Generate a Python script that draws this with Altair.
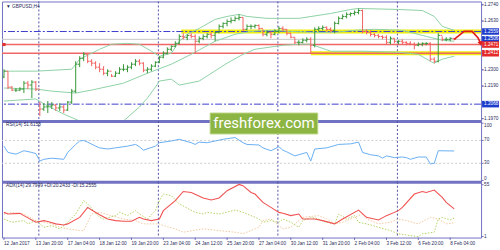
import altair as alt
import pandas as pd

# ---------------- data (GBPUSD H4, bar index 0 = 12 Jan 2017 12:00) ----------------
high = [1.2304, 1.2291, 1.2190, 1.2177, 1.2183, 1.2224, 1.2224, 1.2230, 1.2224, 1.2082,
        1.2075, 1.2089, 1.2082, 1.2069, 1.2075, 1.2062, 1.2089, 1.2170, 1.2358, 1.2392,
        1.2419, 1.2405, 1.2372, 1.2358, 1.2345, 1.2325, 1.2304, 1.2271, 1.2291, 1.2318,
        1.2338, 1.2331, 1.2351, 1.2372, 1.2372, 1.2351, 1.2318, 1.2338, 1.2358, 1.2392,
        1.2426, 1.2452, 1.2466, 1.2493, 1.2540, 1.2547, 1.2540, 1.2547, 1.2540, 1.2526,
        1.2540, 1.2547, 1.2553, 1.2560, 1.2607, 1.2621, 1.2641, 1.2654, 1.2661, 1.2675,
        1.2654, 1.2607, 1.2607, 1.2607, 1.2607, 1.2574, 1.2567, 1.2560, 1.2574, 1.2594,
        1.2594, 1.2574, 1.2547, 1.2520, 1.2500, 1.2513, 1.2520, 1.2520, 1.2587, 1.2594,
        1.2600, 1.2594, 1.2587, 1.2627, 1.2661, 1.2675, 1.2688, 1.2688, 1.2701, 1.2715,
        1.2708, 1.2574, 1.2567, 1.2547, 1.2540, 1.2533, 1.2533, 1.2526, 1.2513, 1.2500,
        1.2506, 1.2493, 1.2493, 1.2486, 1.2486, 1.2486, 1.2486, 1.2486, 1.2385, 1.2547,
        1.2526, 1.2520, 1.2520, 1.2513]
low = [1.2244, 1.2170, 1.2156, 1.2150, 1.2156, 1.2143, 1.2170, 1.2109, 1.2156, 1.1988,
       1.2022, 1.2008, 1.2035, 1.2022, 1.2022, 1.2008, 1.2022, 1.2069, 1.2143, 1.2318,
       1.2358, 1.2345, 1.2325, 1.2304, 1.2284, 1.2264, 1.2257, 1.2251, 1.2251, 1.2271,
       1.2291, 1.2284, 1.2304, 1.2325, 1.2331, 1.2284, 1.2277, 1.2291, 1.2318, 1.2345,
       1.2378, 1.2405, 1.2426, 1.2452, 1.2473, 1.2506, 1.2500, 1.2513, 1.2412, 1.2479,
       1.2500, 1.2513, 1.2513, 1.2493, 1.2547, 1.2580, 1.2594, 1.2614, 1.2627, 1.2634,
       1.2560, 1.2567, 1.2574, 1.2580, 1.2567, 1.2526, 1.2526, 1.2513, 1.2533, 1.2547,
       1.2560, 1.2533, 1.2513, 1.2473, 1.2466, 1.2479, 1.2486, 1.2412, 1.2452, 1.2560,
       1.2567, 1.2560, 1.2553, 1.2547, 1.2607, 1.2641, 1.2648, 1.2661, 1.2668, 1.2675,
       1.2547, 1.2540, 1.2526, 1.2520, 1.2513, 1.2506, 1.2473, 1.2473, 1.2479, 1.2473,
       1.2473, 1.2466, 1.2466, 1.2439, 1.2459, 1.2459, 1.2466, 1.2358, 1.2345, 1.2351,
       1.2493, 1.2493, 1.2493, 1.2500]
close = [1.2291, 1.2183, 1.2163, 1.2163, 1.2170, 1.2210, 1.2197, 1.2217, 1.2170, 1.2035,
         1.2049, 1.2055, 1.2062, 1.2042, 1.2049, 1.2028, 1.2082, 1.2156, 1.2338, 1.2378,
         1.2405, 1.2358, 1.2345, 1.2318, 1.2304, 1.2277, 1.2291, 1.2257, 1.2277, 1.2304,
         1.2304, 1.2318, 1.2338, 1.2358, 1.2345, 1.2298, 1.2304, 1.2325, 1.2351, 1.2385,
         1.2412, 1.2439, 1.2459, 1.2479, 1.2526, 1.2520, 1.2533, 1.2526, 1.2493, 1.2513,
         1.2526, 1.2540, 1.2533, 1.2553, 1.2594, 1.2614, 1.2627, 1.2634, 1.2648, 1.2654,
         1.2574, 1.2594, 1.2594, 1.2600, 1.2580, 1.2540, 1.2553, 1.2540, 1.2560, 1.2580,
         1.2574, 1.2547, 1.2520, 1.2486, 1.2486, 1.2500, 1.2506, 1.2466, 1.2574, 1.2580,
         1.2587, 1.2574, 1.2567, 1.2614, 1.2648, 1.2661, 1.2675, 1.2681, 1.2688, 1.2701,
         1.2560, 1.2553, 1.2540, 1.2533, 1.2526, 1.2520, 1.2486, 1.2513, 1.2493, 1.2493,
         1.2486, 1.2479, 1.2473, 1.2466, 1.2473, 1.2479, 1.2479, 1.2372, 1.2358, 1.2533,
         1.2506, 1.2506, 1.2513, 1.2506]
first_open = 1.2251

upper_i = [0, 8, 17, 19, 24, 27, 31, 34, 37, 39, 42, 44, 46, 49, 53, 56, 59, 61, 66, 74,
           82, 87, 89, 99, 105, 108, 110, 113]
upper_p = [1.2291, 1.2291, 1.2304, 1.2372, 1.2439, 1.2473, 1.2479, 1.2473, 1.2426, 1.2392,
           1.2412, 1.2493, 1.2540, 1.2580, 1.2641, 1.2661, 1.2675, 1.2661, 1.2648, 1.2648,
           1.2681, 1.2708, 1.2715, 1.2708, 1.2701, 1.2661, 1.2594, 1.2567]
mid_i = [0, 8, 12, 18, 22, 30, 36, 42, 47, 53, 58, 62, 67, 72, 78, 83, 88, 93, 100, 106, 110, 113]
mid_p = [1.2177, 1.2170, 1.2156, 1.2143, 1.2163, 1.2210, 1.2277, 1.2338, 1.2405, 1.2493,
         1.2540, 1.2560, 1.2567, 1.2560, 1.2553, 1.2553, 1.2567, 1.2574, 1.2567, 1.2526,
         1.2500, 1.2493]
lower_i = [0, 8, 11, 15, 19, 24, 27, 30, 34, 36, 38, 39, 42, 44, 49, 56, 60, 63, 70, 74,
           77, 82, 90, 99, 104, 107, 108, 110, 113]
lower_p = [1.2089, 1.2103, 1.2055, 1.2001, 1.1954, 1.1887, 1.1894, 1.1954, 1.2049, 1.2109,
           1.2183, 1.2224, 1.2237, 1.2197, 1.2224, 1.2345, 1.2405, 1.2439, 1.2466, 1.2473,
           1.2473, 1.2426, 1.2426, 1.2419, 1.2405, 1.2358, 1.2345, 1.2372, 1.2392]

rsi_i = [0, 1, 3, 4, 5, 7, 8, 9, 10, 12, 15, 16, 18, 19, 20, 21, 23, 24, 26, 28,
         31, 33, 34, 35, 38, 39, 42, 44, 47, 48, 49, 51, 53, 55, 57, 58, 60, 61, 64, 65,
         67, 69, 70, 71, 73, 74, 76, 77, 78, 81, 84, 87, 89, 90, 92, 94, 95, 96, 98, 100,
         101, 102, 104, 106, 107, 108, 109, 113]
rsi_v = [60, 49, 46, 49, 52, 49, 47, 34, 37, 39, 37, 49, 63, 69, 70, 67, 60, 57, 55, 57,
         60, 63, 59, 53, 60, 66, 69, 72, 66, 63, 67, 66, 69, 72, 74, 75, 66, 63, 62, 57,
         52, 59, 53, 50, 43, 45, 49, 34, 55, 57, 63, 64, 67, 49, 45, 43, 39, 43, 40, 41,
         40, 37, 41, 41, 29, 30, 52, 51.6]

adx_i = [0, 1, 4, 5, 8, 10, 11, 13, 15, 16, 19, 21, 22, 24, 26, 28, 30, 32, 34, 35,
         37, 39, 40, 43, 45, 47, 50, 52, 54, 56, 59, 60, 62, 63, 65, 67, 69, 70, 72, 74,
         75, 78, 80, 83, 85, 89, 91, 94, 96, 99, 100, 103, 105, 106, 108, 110, 111, 113]
adx_v = [26.2, 24.5, 25.2, 22.8, 15.9, 17.6, 16.6, 14.2, 13.1, 14.2, 21, 31.4, 28.6, 23.8, 19.3, 17.6, 16.9, 16.9, 21, 19.3,
         17.6, 19.3, 28, 38.4, 48, 47, 41.2, 39.1, 41.2, 48.8, 55.3, 54, 47, 45.3, 36.6, 31.4, 26.2, 25.2, 22.8, 24.5,
         19.3, 19.3, 17.6, 14.2, 19.3, 28.6, 21, 18.3, 22.8, 28, 31.4, 45.3, 48, 47, 49.5, 41.8, 36.6, 29.8]
plus_i = [0, 2, 5, 6, 8, 10, 12, 14, 16, 18, 20, 21, 24, 25, 28, 29, 31, 33, 34, 36,
          38, 39, 40, 42, 44, 48, 50, 51, 54, 58, 60, 62, 64, 65, 67, 69, 70, 72, 74, 75,
          77, 79, 80, 83, 84, 86, 88, 89, 91, 94, 97, 99, 102, 104, 105, 108, 109, 110, 112, 113]
plus_v = [19.3, 15.9, 17.6, 14.2, 17.6, 10.7, 12.4, 9, 15.9, 24.5, 38.4, 35, 21, 19.3, 22.8, 26.2, 22.8, 28, 24.5, 19.3,
          28, 38.4, 45.3, 43.6, 35, 26.2, 24.5, 26.2, 24.5, 28.6, 26.2, 22.8, 19.3, 15.9, 17.6, 15.9, 19.3, 15.9, 10.7, 17.6,
          21, 19.3, 16.9, 14.2, 24.5, 19.3, 22.8, 15.9, 14.2, 10.7, 7.2, 3.8, 2, 1, 3.8, 5.5, 19.3, 21, 18.3, 20.2]
minus_i = [0, 2, 5, 8, 12, 14, 16, 19, 20, 22, 24, 27, 30, 33, 35, 39, 40, 43, 45, 50,
           54, 58, 60, 62, 64, 65, 67, 69, 70, 72, 75, 79, 81, 83, 85, 90, 91, 94, 97, 99,
           101, 104, 107, 109, 111, 113]
minus_v = [24.5, 26.2, 24.5, 17.6, 14.2, 10.7, 9, 7.2, 7.2, 24.5, 26.2, 22.8, 19.3, 17.6, 14.2, 14.2, 12.4, 9, 5.5, 9,
           7.2, 5.5, 4, 7.2, 10.7, 17.6, 19.3, 12.4, 9, 10.7, 21, 22.8, 19.3, 14.2, 15.9, 24.5, 19.3, 14.2, 15.9, 19.3,
           17.6, 14.2, 21, 19.3, 14.2, 15.3]

x_tick_idx = [0, 8, 16, 24, 32, 40, 48, 56, 64, 72, 80, 88, 96, 104, 112]
x_tick_labels = ["12 Jan 2017", "13 Jan 20:00", "17 Jan 04:00", "18 Jan 12:00", "19 Jan 20:00",
                 "23 Jan 04:00", "24 Jan 12:00", "25 Jan 20:00", "27 Jan 04:00", "30 Jan 12:00",
                 "31 Jan 20:00", "2 Feb 04:00", "3 Feb 12:00", "6 Feb 20:00", "8 Feb 04:00"]
week_sep = [8.75, 38.75, 68.75, 98.75]
price_ticks = [1.2740, 1.2630, 1.2520, 1.2410, 1.2300, 1.2190, 1.2080, 1.1970]
price_labels = [1.2740, 1.2630, 1.2300, 1.2190, 1.1970]   # the others sit under price tags
rsi_ticks_mid = [70, 30]
rsi_tick_top = [100]
rsi_tick_bottom = [0]
adx_ticks = [55, 1]
blue_levels = [1.2559, 1.2068]
current_price = 1.2506
red_levels = [1.2471, 1.2412]
yellow_p = [1.2559, 1.2412]
yellow_from = [44.5, 77]
yellow_to = [119.75, 119.75]
forecast_i = [113, 115.5, 117.5, 119, 119.6]
forecast_p = [1.2506, 1.2560, 1.2560, 1.2515, 1.2482]
blue_tags = [1.2559, 1.2506, 1.2068]
red_tags = [1.2471, 1.2412]

# ---------------- style ----------------
FONT = "Liberation Sans"
FRAME = "#7272c2"
SEP = "#5050a4"
TXT = "#2a2a5a"
GREEN = "#369636"
RED = "#f26262"
BAND = "#8ed2a6"
W = 481
FS = 4.7
xs = alt.Scale(domain=[-0.5, 119.75], nice=False, zero=False)


def X(f):
    return alt.X(f, scale=xs, axis=None, title=None)


def vseps():
    return alt.Chart(pd.DataFrame({"i": week_sep})).mark_rule(
        color=SEP, strokeDash=[2, 2], strokeWidth=1).encode(x=X("i:Q"))


def top_bar():
    return alt.Chart(pd.DataFrame({"a": [0]})).mark_rule(
        color=FRAME, strokeWidth=3).encode(x=alt.value(0), x2=alt.value(W), y=alt.value(0.5))


def header(text, y):
    return alt.Chart(pd.DataFrame({"t": [text]})).mark_text(
        align="left", baseline="middle", font=FONT, fontSize=4.8, color=TXT).encode(
        text="t:N", x=alt.value(4), y=alt.value(y))


def right_ticks(vals, yscale):
    return alt.Chart(pd.DataFrame({"v": vals})).mark_rule(color=FRAME, strokeWidth=1).encode(
        x=alt.value(W), x2=alt.value(W + 2.5),
        y=alt.Y("v:Q", scale=yscale, axis=None, title=None))


def right_labels(vals, yscale, fmt, baseline="middle"):
    """Right-hand scale: tick marks + labels placed through the panel's y scale."""
    df = pd.DataFrame({"v": vals, "t": [fmt.format(v) for v in vals]})
    tx = alt.Chart(df).mark_text(align="left", baseline=baseline, font=FONT, fontSize=FS,
                                 color=TXT).encode(
        x=alt.value(W + 3), y=alt.Y("v:Q", scale=yscale, axis=None, title=None), text="t:N")
    return right_ticks(vals, yscale) + tx


# ---------------- main price panel ----------------
main_y = alt.Scale(domain=[1.1954, 1.2762], nice=False, zero=False)


def Ym(f):
    return alt.Y(f, scale=main_y, axis=None, title=None)


opens = [first_open] + close[:-1]
bars = pd.DataFrame({"i": list(range(len(close))), "o": opens, "h": high, "l": low, "c": close})
bars["d"] = ["up" if c >= o else "down" for o, c in zip(opens, close)]
bar_color = alt.Color("d:N", scale=alt.Scale(domain=["up", "down"], range=[GREEN, RED]), legend=None)

wick = alt.Chart(bars).mark_rule(strokeWidth=1, clip=True).encode(
    x=X("i:Q"), y=Ym("l:Q"), y2="h:Q", color=bar_color)
otick = alt.Chart(bars).transform_calculate(xo="datum.i - 0.45").mark_rule(strokeWidth=1).encode(
    x=X("xo:Q"), x2="i:Q", y=Ym("o:Q"), color=bar_color)
ctick = alt.Chart(bars).transform_calculate(xc="datum.i + 0.45").mark_rule(strokeWidth=1).encode(
    x=X("i:Q"), x2="xc:Q", y=Ym("c:Q"), color=bar_color)


def band(ii, pp):
    return alt.Chart(pd.DataFrame({"i": ii, "p": pp})).mark_line(
        color=BAND, strokeWidth=1, clip=True).encode(x=X("i:Q"), y=Ym("p:Q"))


cur_line = alt.Chart(pd.DataFrame({"p": [current_price]})).mark_rule(
    color="#c8c8c8", strokeWidth=1).encode(y=Ym("p:Q"))
yellow = alt.Chart(pd.DataFrame({"p": yellow_p, "a": yellow_from, "b": yellow_to})).mark_rule(
    color="#eeee10", strokeWidth=4).encode(x=X("a:Q"), x2="b:Q", y=Ym("p:Q"))
blue_lines = alt.Chart(pd.DataFrame({"p": blue_levels})).mark_rule(
    color="#3c3cd0", strokeWidth=1, strokeDash=[7, 2, 2, 2]).encode(y=Ym("p:Q"))
red_lines = alt.Chart(pd.DataFrame({"p": red_levels})).mark_rule(
    color="#f06666", strokeWidth=1.4).encode(y=Ym("p:Q"))
red_sq = alt.Chart(pd.DataFrame({"i": [0], "p": [red_levels[0]]})).mark_square(
    size=10, color="#e03030", opacity=1).encode(x=X("i:Q"), y=Ym("p:Q"))
fc = alt.Chart(pd.DataFrame({"i": forecast_i, "p": forecast_p})).mark_line(
    color="#e01c1c", strokeWidth=1.6).encode(x=X("i:Q"), y=Ym("p:Q"))
fc_head = alt.Chart(pd.DataFrame({"i": [forecast_i[-1]], "p": [forecast_p[-1]]})).mark_point(
    shape="triangle", angle=165, filled=True, size=30, color="#e01c1c", opacity=1).encode(
    x=X("i:Q"), y=Ym("p:Q"))


def tags(vals, col):
    df = pd.DataFrame({"p": vals, "t": [f"{v:.4f}" for v in vals]})
    box = alt.Chart(df).transform_calculate(
        p1="datum.p + 0.0022", p2="datum.p - 0.0022").mark_rect(color=col).encode(
        x=alt.value(482), x2=alt.value(499), y=Ym("p1:Q"), y2="p2:Q")
    txt = alt.Chart(df).mark_text(align="left", baseline="middle", font=FONT, fontSize=FS,
                                  color="white").encode(
        x=alt.value(484), y=Ym("p:Q"), text="t:N")
    return box + txt


main = alt.layer(
    vseps(), cur_line, yellow, blue_lines, red_lines, red_sq,
    band(upper_i, upper_p), band(mid_i, mid_p), band(lower_i, lower_p),
    wick, otick, ctick, fc, fc_head,
    right_ticks(price_ticks, main_y),
    right_labels(price_labels, main_y, "{:.4f}"),
    tags(blue_tags, "#1e3ccc"), tags(red_tags, "#e52a2a"),
    header("\u25bc GBPUSD,H4", 6),
).properties(width=W, height=120)

# ---------------- RSI panel ----------------
rsi_y = alt.Scale(domain=[-2.2, 103.9], nice=False, zero=False)
rsi_levels = alt.Chart(pd.DataFrame({"v": rsi_ticks_mid})).mark_rule(
    color="#cccccc", strokeDash=[2, 2], strokeWidth=1).encode(
    y=alt.Y("v:Q", scale=rsi_y, axis=None))
rsi_line = alt.Chart(pd.DataFrame({"i": rsi_i, "v": rsi_v})).mark_line(
    color="#6aaef2", strokeWidth=1).encode(
    x=X("i:Q"), y=alt.Y("v:Q", scale=rsi_y, axis=None, title=None))
wm = pd.DataFrame({"t": ["freshforex.com"]})
wm_box = alt.Chart(wm).mark_rect(fill="#8db543", stroke="#b9d57f", strokeWidth=1).encode(
    x=alt.value(209), x2=alt.value(317), y=alt.value(-8), y2=alt.value(13))
wm_txt = alt.Chart(wm).mark_text(font="Roboto", fontSize=15, color="white",
                                 align="center", baseline="middle").encode(
    text="t:N", x=alt.value(263), y=alt.value(2.5))
rsi = alt.layer(
    top_bar(), rsi_levels, vseps(), rsi_line,
    right_labels(rsi_ticks_mid, rsi_y, "{:d}"),
    right_labels(rsi_tick_top, rsi_y, "{:d}", "top"),
    right_labels(rsi_tick_bottom, rsi_y, "{:d}", "bottom"),
    header("RSI(14) 51.6158", 4.5), wm_box, wm_txt
).properties(width=W, height=61)

# ---------------- ADX panel ----------------
adx_y = alt.Scale(domain=[-0.04, 58.1], nice=False, zero=False)
H3 = 56


def di(ii, vv, col):
    return alt.Chart(pd.DataFrame({"i": ii, "v": vv})).mark_line(
        color=col, strokeWidth=1, strokeDash=[1.5, 1.5]).encode(
        x=X("i:Q"), y=alt.Y("v:Q", scale=adx_y, axis=None))


adx_line = alt.Chart(pd.DataFrame({"i": adx_i, "v": adx_v})).mark_line(
    color="#f05252", strokeWidth=1.1).encode(
    x=X("i:Q"), y=alt.Y("v:Q", scale=adx_y, axis=None, title=None))
xdf = pd.DataFrame({"i": x_tick_idx, "t": x_tick_labels})
x_ticks = alt.Chart(xdf).mark_rule(color=FRAME, strokeWidth=1).encode(
    x=X("i:Q"), y=alt.value(H3), y2=alt.value(H3 + 2.5))
x_text = alt.Chart(xdf).mark_text(align="left", baseline="middle", font=FONT, fontSize=FS,
                                  color=TXT).encode(
    x=X("i:Q"), y=alt.value(H3 + 6), text="t:N")
adx = alt.layer(
    top_bar(), vseps(), di(minus_i, minus_v, "#f3c9a0"), di(plus_i, plus_v, "#b2d266"), adx_line,
    right_labels(adx_ticks, adx_y, "{:d}"), x_ticks, x_text,
    header("ADX(14) 29.7949 +DI:20.2433 -DI:15.2555", 4.5)
).properties(width=W, height=H3)

chart = alt.vconcat(main, rsi, adx, spacing=0, bounds="flush").properties(
    padding=0, background="white"
).configure_view(stroke=FRAME, strokeWidth=1)

chart.save("out.html", embed_options={"renderer": "svg", "actions": False})
